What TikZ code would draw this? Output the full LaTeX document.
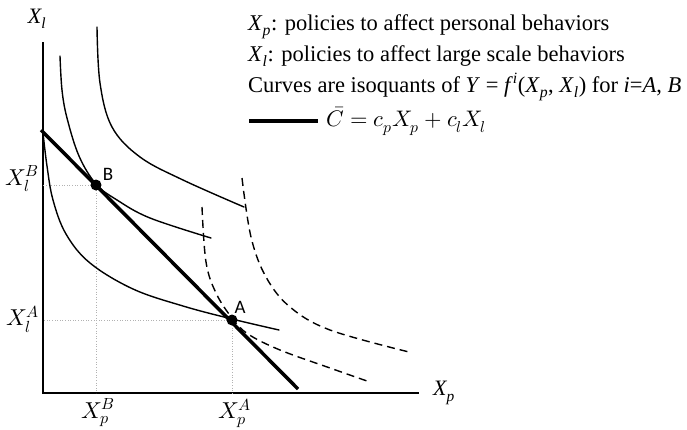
\documentclass[tikz,border=0pt]{standalone}
\usepackage{fontspec}
\usepackage{unicode-math}
\setmainfont{Liberation Serif}
\setmathfont{Latin Modern Math}
\newfontfamily\carl{Carlito}
\begin{document}
\begin{tikzpicture}[x=1pt,y=-1pt,
  curve/.style={line width=1.4pt, line cap=round},
  dcurve/.style={line width=1.4pt, dash pattern=on 8pt off 5pt},
  guide/.style={black!30, line width=0.6pt, dotted},
  axisline/.style={line width=1.1pt},
  budget/.style={line width=3.5pt},
  dotnode/.style={circle, fill=black, inner sep=0pt, minimum size=11pt},
  legtext/.style={anchor=base west, font=\fontsize{22.5}{26}\selectfont, inner sep=0pt},
  ticklab/.style={font=\fontsize{23}{26}\selectfont, inner sep=0pt},
  ptlab/.style={font=\carl\fontsize{19}{22}\selectfont, inner sep=0pt},
  axlab/.style={font=\fontsize{22}{24}\selectfont\itshape, inner sep=0pt}]
\useasboundingbox (0,0) rectangle (687,429);
% axes
\coordinate (O) at (43,393);
\coordinate (ytop) at (43,42);
\coordinate (xend) at (419,393);
\draw[axisline] (ytop) -- (O) -- (xend);
\node[axlab] (xl) at (37,19) {X\textsubscript{l}};
\node[axlab, anchor=west] (xp) at (433,393) {X\textsubscript{p}};
% points
\coordinate (Bc) at (96,185);
\coordinate (Ac) at (232,320);
% guides
\draw[guide] (Bc) -- (Bc -| O);
\draw[guide] (Bc) -- (Bc |- O);
\draw[guide] (Ac) -- (Ac -| O);
\draw[guide] (Ac) -- (Ac |- O);
% solid isoquants
\draw[curve] plot[smooth, tension=0.6] coordinates {(43,133) (47,166) (53,200) (66,234) (90,263) (133,289) (183,306) (232,319) (279,330)};
\draw[curve] plot[smooth, tension=0.6] coordinates {(60,56) (62,90) (67,118) (79,156) (96,184) (117,200) (150,218) (211,238)};
\draw[curve] plot[smooth, tension=0.6] coordinates {(97,27) (100,83) (112,127) (140,157) (183,180) (244,207)};
% dashed isoquants
\draw[dcurve] plot[smooth, tension=0.6] coordinates {(202,207) (206,262) (216,293) (232,318) (248,334) (280,350) (330,368) (367,381)};
\draw[dcurve] plot[smooth, tension=0.6] coordinates {(242,178) (251,237) (266,277) (290,307) (330,330) (409,352)};
% budget line
\coordinate (C1) at (41,130);
\coordinate (C2) at (298,389);
\draw[budget] (C1) -- (C2);
\node[dotnode] (B) at (Bc) {};
\node[dotnode] (A) at (Ac) {};
\node[ptlab] (Blab) at (108,174) {B};
\node[ptlab] (Alab) at (240,307) {A};
% tick labels
\node[ticklab] (xlB) at (22,179) {$X_l^B$};
\node[ticklab] (xlA) at (23,319) {$X_l^A$};
\node[ticklab] (xpB) at (98,413) {$X_p^B$};
\node[ticklab] (xpA) at (235,413) {$X_p^A$};
% legend
\node[legtext] (l1) at (248,30) {\textit{X}\textsubscript{\textit{p}}: policies to affect personal behaviors};
\node[legtext] (l2) at (248,61) {\textit{X}\textsubscript{\textit{l}}: policies to affect large scale behaviors};
\node[legtext] (l3) at (248,92) {Curves are isoquants of \textit{Y} = \textit{f}\textsuperscript{\textit{i}}(\textit{X}\textsubscript{\textit{p}}, \textit{X}\textsubscript{\textit{l}}) for \textit{i}=\textit{A}, \textit{B}};
\coordinate (lg1) at (249,121);
\coordinate (lg2) at (318,121);
\draw[budget] (lg1) -- (lg2);
\node[legtext, anchor=west] (l4) at (326,121) {$\bar{C} = c_pX_p + c_lX_l$};
\end{tikzpicture}
\end{document}
